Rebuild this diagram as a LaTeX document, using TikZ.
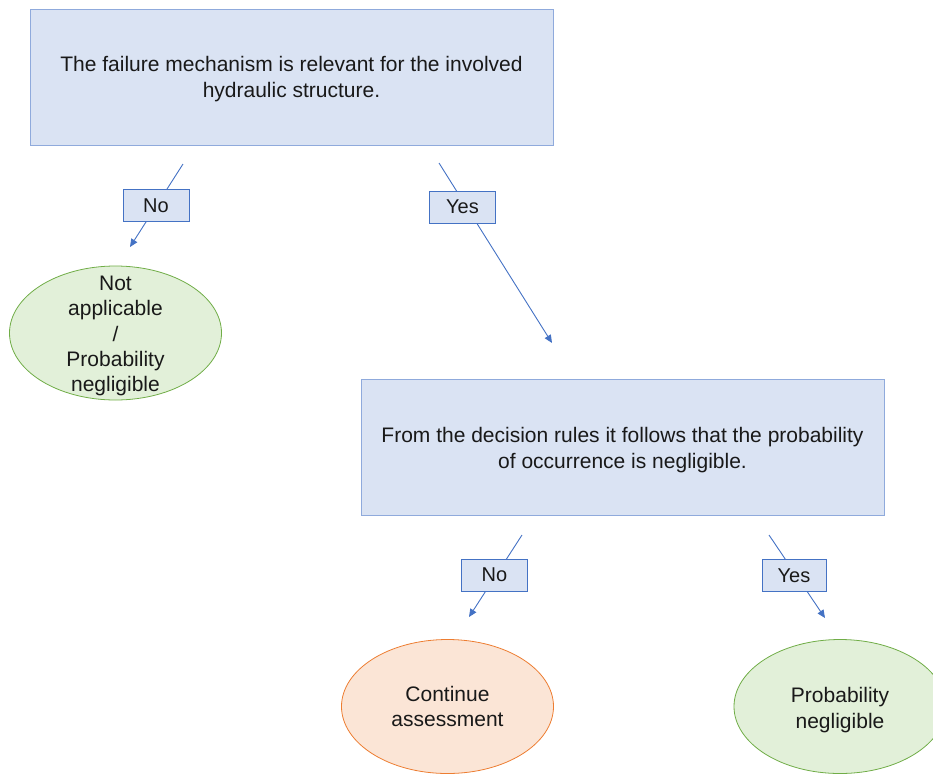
\documentclass[tikz,border=0pt]{standalone}
\usepackage{fontspec}
\setmainfont{Liberation Sans}
\usetikzlibrary{arrows.meta,shapes.geometric}
\definecolor{boxfill}{RGB}{218,227,243}
\definecolor{boxline}{RGB}{143,170,220}
\definecolor{flowblue}{RGB}{68,114,196}
\definecolor{greenfill}{RGB}{226,240,217}
\definecolor{greenline}{RGB}{112,173,71}
\definecolor{orangefill}{RGB}{251,229,214}
\definecolor{orangeline}{RGB}{237,125,49}
\tikzset{
  txt/.style={font=\fontsize{21}{26}\selectfont, align=center, text=black!90},
  question/.style={draw=boxline, fill=boxfill, line width=1pt,
    minimum width=523pt, minimum height=136pt, inner sep=0pt},
  qtext/.style={txt, inner sep=0pt},
  answer/.style={txt, font=\fontsize{20}{24}\selectfont, draw=flowblue,
    fill=boxfill, line width=0.9pt,
    minimum width=66pt, minimum height=32pt, inner sep=0pt},
  result/.style={ellipse, line width=0.8pt, inner sep=0pt,
    minimum width=212pt, minimum height=134pt},
  good/.style={result, draw=greenline, fill=greenfill},
  goon/.style={result, draw=orangeline, fill=orangefill},
  restext/.style={txt, font=\fontsize{21}{25.25}\selectfont, inner sep=0pt},
  flow/.style={draw=flowblue, line width=0.9pt,
    -{Triangle[length=8pt,width=7pt]}},
}
\begin{document}
\begin{tikzpicture}[x=1pt,y=-1pt]
\useasboundingbox (0,0) rectangle (933,774);

% decision boxes
\node[question] (q1) at (291.5,77) {};
\node[qtext] (q1text) at (291.5,79.5)
  {The failure mechanism is relevant for the involved\\hydraulic structure.};
\node[question] (q2) at (622.5,447) {};
\node[qtext] (q2text) at (622.5,450.5)
  {From the decision rules it follows that the probability\\of occurrence is negligible.};

% outcomes: ellipse outline, then its text on top
\node[good] (na) at (115.5,333) {};
\node[restext] (natext) at (115.5,336)
  {Not\\applicable\\/\\Probability\\negligible};
\node[goon] (cont) at (447.5,706.5) {};
\node[restext] (conttext) at (447.5,706.5) {Continue\\assessment};
\node[good] (negl) at (840,706.5) {};
\node[restext] (negltext) at (840,710) {Probability\\negligible};

% connector end points
\coordinate (a1) at (183,164);
\coordinate (b1) at (130,247);
\coordinate (a2) at (439,163);
\coordinate (b2) at (552,343);
\coordinate (a3) at (522,535);
\coordinate (b3) at (469,617);
\coordinate (a4) at (769,535);
\coordinate (b4) at (825,618);

% connectors
\draw[flow] (a1) -- (b1);
\draw[flow] (a2) -- (b2);
\draw[flow] (a3) -- (b3);
\draw[flow] (a4) -- (b4);

% answer labels laid over the connectors
\node[answer] (no1) at (156,205.5) {No};
\node[answer] (yes1) at (462.5,207) {Yes};
\node[answer] (no2) at (494.5,575) {No};
\node[answer, minimum width=64pt] (yes2) at (794,575.5) {Yes};
\end{tikzpicture}
\end{document}
